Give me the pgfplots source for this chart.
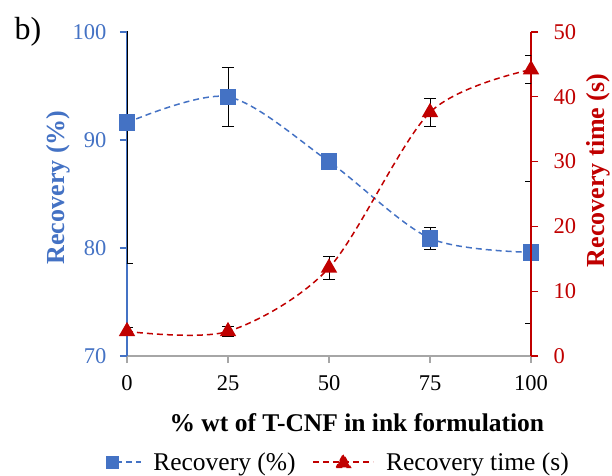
\documentclass[border=0pt]{standalone}
\usepackage{fontspec}
\setmainfont{Liberation Serif}
\usepackage{pgfplots}
\pgfplotsset{compat=1.18}
\definecolor{recblue}{HTML}{4472C4}
\definecolor{recred}{HTML}{C00000}
\definecolor{axgray}{HTML}{A6A6A6}

\newcommand{\labfont}{\fontsize{26bp}{30bp}\selectfont\bfseries}
\pgfplotsset{
  base/.style={
    scale only axis, width=404bp, height=324bp,
    xmin=0, xmax=100,
    tick align=outside, major tick length=7bp,
    /pgf/number format/assume math mode=true,
    tick label style={font=\rmfamily\fontsize{22.5bp}{26bp}\selectfont},
  },
  ebars/.style={
    error bars/.cd, y dir=both, y explicit,
    error bar style={black, line width=0.9bp, solid},
    error mark options={rotate=90, mark size=6bp, black, line width=0.9bp, solid},
  },
}

\begin{document}
\begin{tikzpicture}
\useasboundingbox (-127bp,-120bp) rectangle (485bp,356bp);
\begin{axis}[
  base,
  ymin=70, ymax=100, ytick={70,80,90,100},
  xtick={0,25,50,75,100},
  axis x line*=bottom, axis y line*=left,
  x axis line style={axgray, line width=1.5bp, -},
  y axis line style={recblue, line width=1.3bp, -},
  xtick style={axgray, line width=1.3bp},
  ytick style={recblue, line width=1.3bp},
  yticklabel style={recblue, xshift=-10bp},
  xticklabel style={yshift=-9bp},
  xlabel={\% wt of T-CNF in ink formulation},
  ylabel={Recovery (\%)},
  every axis x label/.style={at={(axis description cs:0.569,-0.207)}, anchor=center, font=\fontsize{25.5bp}{30bp}\selectfont\bfseries},
  every axis y label/.style={at={(axis description cs:-0.171,0.52)}, anchor=center, rotate=90, font=\labfont, recblue},
]
\addplot[recblue, line width=1.5bp, dash pattern=on 6bp off 4bp, smooth,
  mark=square*, mark size=7.5bp, mark options={solid, fill=recblue},
  ebars]
  table[x=x, y=y, y error=e] {
  x   y     e
  0   91.6  13.0
  25  94.0  2.7
  50  88.0  0
  75  80.9  1.0
  100 79.6  6.6
};
\end{axis}
\begin{axis}[
  base,
  ymin=0, ymax=50, ytick={0,10,20,30,40,50},
  axis x line=none, axis y line*=right,
  y axis line style={recred, line width=1.3bp, -},
  ytick style={recred, line width=1.3bp},
  yticklabel style={recred, xshift=12bp},
  ylabel={Recovery time (s)},
  every axis y label/.style={at={(axis description cs:1.166,0.573)}, anchor=center, rotate=90, font=\labfont, recred},
  legend style={at={(axis description cs:-0.054,-0.327)}, anchor=west, draw=none,
    inner xsep=0pt, legend columns=2, font=\fontsize{25.5bp}{30bp}\selectfont,
    /tikz/every even column/.append style={column sep=15bp}},
]
\addlegendimage{legend image code/.code={
    \draw[recblue, line width=1.5bp, dash pattern=on 6bp off 4bp] (0bp,0bp) -- (35bp,0bp);
    \fill[recblue] (0bp,-6bp) rectangle (12bp,6bp);
    \path (45bp,0bp);}}
\addlegendentry{Recovery (\%)}
\addplot[recred, line width=1.5bp, dash pattern=on 6bp off 4bp, smooth,
  mark=triangle*, mark size=8bp, mark options={solid, fill=recred},
  legend image code/.code={
    \draw[recred, line width=1.5bp, dash pattern=on 6bp off 4bp] (0bp,0bp) -- (60bp,0bp);
    \fill[recred] (23bp,-5.5bp) -- (37bp,-5.5bp) -- (30bp,7.5bp) -- cycle;
    \path (70bp,0bp);},
  ebars]
  table[x=x, y=y, y error=e] {
  x   y     e
  0   3.8   0.6
  25  3.8   0.8
  50  13.6  1.8
  75  37.6  2.2
  100 44.2  2.2
};
\addlegendentry{Recovery time (s)}
\end{axis}
\node[font=\fontsize{32bp}{36bp}\selectfont, anchor=center] at (-99bp,324bp) {b)};
\end{tikzpicture}
\end{document}
